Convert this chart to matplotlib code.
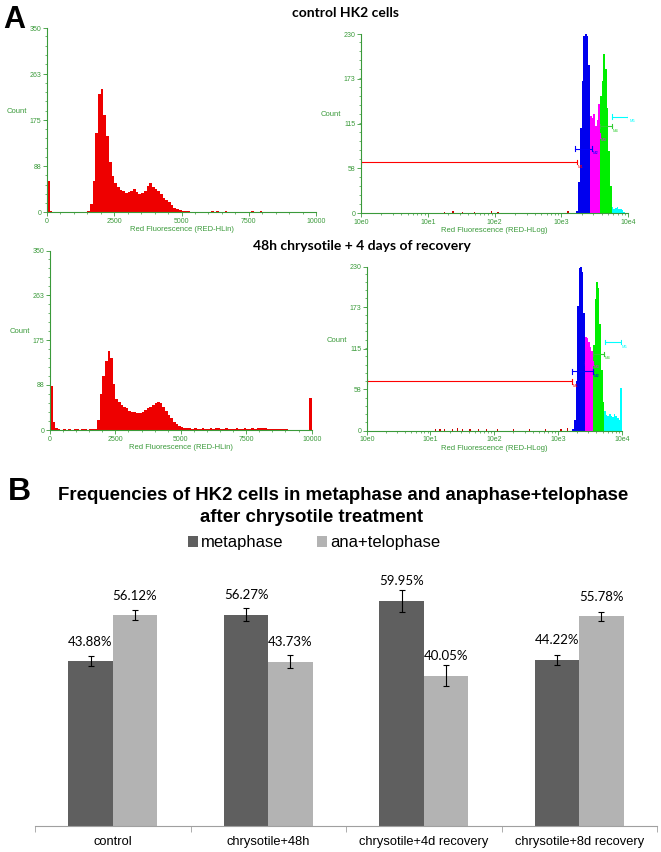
import numpy as np
import matplotlib
matplotlib.use("Agg")
import matplotlib.pyplot as plt
from matplotlib.ticker import AutoMinorLocator, FixedLocator, NullFormatter

## DONNEES - panel A (histogrammes, bins de 100 sur 0..10000)
lin_edges_start = 0
lin_bin = 100
ctrl_lin = [60, 3, 0, 0, 0, 0, 1, 0, 0, 0, 1, 0, 0, 1, 0, 2, 15, 60, 150, 225,
            235, 185, 145, 95, 70, 55, 48, 42, 40, 36, 38, 40, 44, 38, 34, 36, 40, 50, 55, 48,
            45, 40, 34, 28, 24, 20, 14, 9, 6, 4, 3, 2, 2, 1, 0, 1, 0, 1, 0, 1,
            0, 2, 1, 2, 1, 0, 2, 1, 0, 1, 0, 1, 0, 0, 1, 0, 2, 1, 0, 2,
            1, 0, 1, 0, 0, 1, 0, 0, 1, 0, 1, 0, 0, 0, 0, 0, 0, 0, 0, 0]
rec_lin = [85, 15, 3, 1, 0, 1, 0, 1, 0, 1, 1, 0, 1, 1, 0, 1, 1, 2, 20, 70,
           105, 135, 155, 140, 90, 60, 55, 48, 45, 42, 38, 36, 35, 33, 34, 36, 40, 42, 45, 48,
           52, 55, 53, 45, 38, 30, 24, 16, 12, 8, 6, 4, 3, 3, 2, 3, 2, 2, 3, 2,
           2, 3, 2, 4, 3, 2, 2, 3, 2, 2, 2, 3, 2, 2, 3, 2, 2, 3, 2, 3,
           4, 4, 3, 2, 2, 2, 1, 1, 1, 1, 1, 0, 0, 0, 0, 0, 0, 0, 0, 62]

# histogrammes log (log10 du canal, bins de 0.025)
log_bin = 0.025
ctrl_blue_start, ctrl_blue = 3.225, [3, 40, 110, 170, 228, 230, 228, 190]
ctrl_mag_start, ctrl_mag = 3.425, [125, 122, 127, 112, 120, 140]
ctrl_green_start, ctrl_green = 3.575, [150, 170, 205, 185, 135, 80, 35]
ctrl_cyan_start, ctrl_cyan = 3.75, [8, 6, 7, 8, 6, 5, 4, 2, 1, 0]
ctrl_red_pos = [1.25, 1.38, 1.52, 1.70, 1.95, 2.05, 3.10]
ctrl_red_cnt = [2, 3, 2, 2, 3, 2, 3]

rec_blue_start, rec_blue = 3.225, [2, 15, 70, 175, 228, 230, 222, 165]
rec_mag_start, rec_mag = 3.425, [132, 130, 125, 118, 112]
rec_green_start, rec_green = 3.55, [120, 185, 208, 200, 150, 85, 40]
rec_cyan_start, rec_cyan = 3.725, [28, 22, 20, 24, 21, 19, 23, 20, 18, 15, 60]
rec_red_pos = [1.08, 1.15, 1.22, 1.35, 1.42, 1.50, 1.62, 1.75, 1.88, 2.05, 2.30, 2.55, 2.80, 3.05, 3.15]
rec_red_cnt = [3, 2, 3, 2, 4, 3, 3, 2, 2, 3, 2, 2, 2, 3, 4]

# marqueurs (M1..M5) : debut, fin (log10), hauteur
ctrl_gates = [(0.0, 3.23, 66, 'red', 'M1'), (3.21, 3.46, 83, 'blue', 'M2'),
              (3.44, 3.58, 100, 'magenta', 'M3'), (3.58, 3.75, 112, 'limegreen', 'M4'),
              (3.76, 4.0, 124, 'cyan', 'M5')]
rec_gates = [(0.0, 3.22, 69, 'red', 'M1'), (3.22, 3.55, 83, 'blue', 'M2'),
             (3.42, 3.55, 95, 'magenta', 'M3'), (3.55, 3.72, 108, 'limegreen', 'M4'),
             (3.74, 3.99, 124, 'cyan', 'M5')]

## DONNEES - panel B
categories = ['control', 'chrysotile+48h', 'chrysotile+4d recovery', 'chrysotile+8d recovery']
metaphase = [43.88, 56.27, 59.95, 44.22]
anatelophase = [56.12, 43.73, 40.05, 55.78]
err_meta = [1.3, 1.7, 2.9, 1.3]
err_ana = [1.3, 1.7, 2.8, 1.3]

GREEN = '#3a9a3a'
plt.rcParams['font.family'] = ['Liberation Sans', 'DejaVu Sans']

fig = plt.figure(figsize=(6.61, 8.52), dpi=100)


def style_flow(ax, ymax, yticks, xlabel):
    for s in ['top', 'right']:
        ax.spines[s].set_visible(False)
    for s in ['left', 'bottom']:
        ax.spines[s].set_color(GREEN)
        ax.spines[s].set_linewidth(0.8)
    ax.set_ylim(0, ymax)
    ax.set_yticks(yticks)
    ax.yaxis.set_minor_locator(AutoMinorLocator(5))
    ax.tick_params(colors=GREEN, labelsize=5, length=3, width=0.6, pad=1)
    ax.tick_params(which='minor', colors=GREEN, length=1.5, width=0.5)
    ax.set_xlabel(xlabel, color=GREEN, fontsize=5.5, labelpad=1)
    ax.text(-0.075, 0.53, 'Count', transform=ax.transAxes, color=GREEN,
            fontsize=5.5, ha='right', va='bottom')


def lin_hist(ax, counts):
    edges = lin_edges_start + lin_bin * np.arange(len(counts) + 1)
    ax.stairs(counts, edges, fill=True, color='#ee0000')
    ax.set_xlim(0, 10000)
    ax.set_xticks([0, 2500, 5000, 7500, 10000])
    ax.set_xticklabels(['0', '2500', '5000', '7500', '10000'])
    ax.xaxis.set_minor_locator(AutoMinorLocator(5))
    style_flow(ax, 350, [0, 88, 175, 263, 350], 'Red Fluorescence (RED-HLin)')


def log_hist(ax, parts, red_pos, red_cnt, gates):
    for start, counts, col in parts:
        edges = 10 ** (start + log_bin * np.arange(len(counts) + 1))
        ax.stairs(counts, edges, fill=True, color=col)
    for p, c in zip(red_pos, red_cnt):
        ax.bar(10 ** p, c, width=10 ** p * 0.05, color='#cc0000', align='center')
    for lo, hi, h, col, name in gates:
        ax.plot([10 ** lo, 10 ** hi], [h, h], color=col, lw=0.8)
        ax.plot([10 ** lo, 10 ** lo], [h - 3, h + 3], color=col, lw=0.8)
        ax.plot([10 ** hi, 10 ** hi], [h - 3, h + 3], color=col, lw=0.8)
        ax.text(10 ** hi * 1.03, h - 6, name, color=col, fontsize=3, ha='left', va='center')
    ax.set_xscale('log')
    ax.set_xlim(1, 10000)
    ax.xaxis.set_major_locator(FixedLocator([1, 10, 100, 1000, 10000]))
    ax.set_xticklabels(['10e0', '10e1', '10e2', '10e3', '10e4'])
    ax.xaxis.set_minor_formatter(NullFormatter())
    style_flow(ax, 230, [0, 58, 115, 173, 230], 'Red Fluorescence (RED-HLog)')


ax1 = fig.add_axes([0.0711, 0.7508, 0.4070, 0.2160])
lin_hist(ax1, ctrl_lin)
ax2 = fig.add_axes([0.5461, 0.7496, 0.4044, 0.2104])
log_hist(ax2, [(ctrl_blue_start, ctrl_blue, '#0000ee'), (ctrl_mag_start, ctrl_mag, '#ff00ff'),
               (ctrl_green_start, ctrl_green, '#00ee00'), (ctrl_cyan_start, ctrl_cyan, '#00ffff')],
         ctrl_red_pos, ctrl_red_cnt, ctrl_gates)
ax3 = fig.add_axes([0.0756, 0.4953, 0.3959, 0.2105])
lin_hist(ax3, rec_lin)
ax4 = fig.add_axes([0.5548, 0.4945, 0.3858, 0.1925])
log_hist(ax4, [(rec_blue_start, rec_blue, '#0000ee'), (rec_mag_start, rec_mag, '#ff00ff'),
               (rec_green_start, rec_green, '#00ee00'), (rec_cyan_start, rec_cyan, '#00ffff')],
         rec_red_pos, rec_red_cnt, rec_gates)

fig.text(3 / 661, 1 - 5 / 852, 'A', fontsize=22, fontweight='bold', ha='left', va='top')
fig.text(346 / 661, 1 - 13 / 852, 'control HK2 cells', fontsize=10, fontweight='bold',
         ha='center', va='center', family=['Lato', 'DejaVu Sans'])
fig.text(362 / 661, 1 - 246 / 852, '48h chrysotile + 4 days of recovery', fontsize=10,
         fontweight='bold', ha='center', va='center', family=['Lato', 'DejaVu Sans'])

## Panel B
axb = fig.add_axes([35 / 661, 1 - 826 / 852, 622 / 661, 263 / 852])
x = np.arange(len(categories))
w = 0.286
b1 = axb.bar(x - w / 2, metaphase, w, color='#5f5f5f', yerr=err_meta,
             error_kw=dict(ecolor='black', lw=0.8, capsize=2.5, capthick=0.8), label='metaphase')
b2 = axb.bar(x + w / 2, anatelophase, w, color='#b3b3b3', yerr=err_ana,
             error_kw=dict(ecolor='black', lw=0.8, capsize=2.5, capthick=0.8), label='ana+telophase')
for xi, v in zip(x - w / 2, metaphase):
    axb.annotate(f'{v:.2f}%', (xi, v), xytext=(0, 14), textcoords='offset points',
                 ha='center', va='center', fontsize=9.5, family=['Lato', 'DejaVu Sans'])
for xi, v in zip(x + w / 2, anatelophase):
    axb.annotate(f'{v:.2f}%', (xi, v), xytext=(0, 14), textcoords='offset points',
                 ha='center', va='center', fontsize=9.5, family=['Lato', 'DejaVu Sans'])
axb.set_xlim(-0.5, len(categories) - 0.5)
axb.set_ylim(0, 70)
for s in ['top', 'right', 'left']:
    axb.spines[s].set_visible(False)
axb.spines['bottom'].set_color('#a0a0a0')
axb.set_yticks([])
axb.set_xticks(x)
axb.set_xticklabels(categories, fontsize=9.3)
axb.tick_params(axis='x', length=0, pad=7)
axb.set_xticks(np.arange(len(categories) + 1) - 0.5, minor=True)
axb.tick_params(axis='x', which='minor', length=4, color='#a0a0a0')

fig.legend(handles=[b1, b2], labels=['metaphase', 'ana+telophase'], loc='center',
           bbox_to_anchor=(314 / 661, 1 - 543 / 852), ncol=2, frameon=False, fontsize=12,
           handlelength=0.6, handleheight=0.6, handletextpad=0.2, columnspacing=2.0)
fig.text(8 / 661, 1 - 492 / 852, 'B', fontsize=23, fontweight='bold', ha='left', va='center')
fig.text(343 / 661, 1 - 495 / 852, 'Frequencies of HK2 cells in metaphase and anaphase+telophase',
         fontsize=13.4, fontweight='bold', ha='center', va='center')
fig.text(312 / 661, 1 - 517 / 852, 'after chrysotile treatment',
         fontsize=13.4, fontweight='bold', ha='center', va='center')

fig.savefig('out.png', dpi=100)
